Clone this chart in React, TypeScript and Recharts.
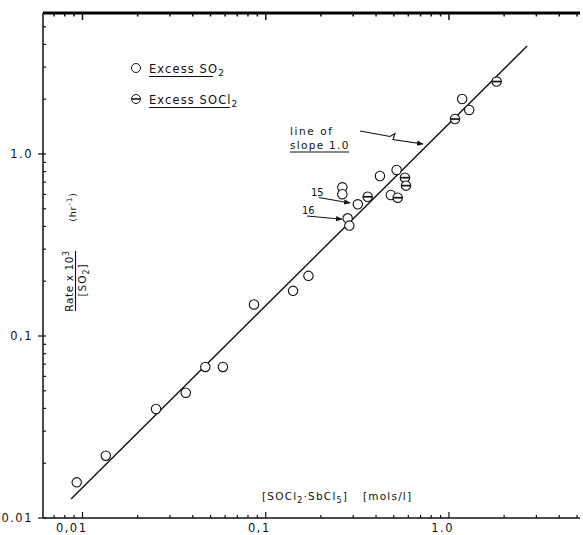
import React from 'react';
import { ScatterChart, Scatter, XAxis, YAxis, ReferenceLine } from 'recharts';

// Excess SO2 (open circles)
const so2X = [0.0093, 0.0134, 0.0252, 0.0366, 0.0468, 0.0584, 0.0863, 0.141, 0.171, 0.262, 0.262, 0.318, 0.280, 0.286, 0.420, 0.518, 0.482, 1.18, 1.29];
const so2Y = [0.0157, 0.0220, 0.0397, 0.0488, 0.0676, 0.0676, 0.149, 0.177, 0.214, 0.656, 0.601, 0.529, 0.443, 0.404, 0.757, 0.817, 0.595, 2.005, 1.745];
// Excess SOCl2 (circles with a bar)
const soclX = [0.360, 0.525, 0.575, 0.583, 1.079, 1.82];
const soclY = [0.582, 0.575, 0.741, 0.670, 1.556, 2.50];
// line of slope 1.0
const lineX = [0.00866, 2.67];
const lineY = [0.0127, 3.92];

const xMajorTicks = [0.01, 0.1, 1];
const xMajorLabels = ['0,01', '0,1', '1.0'];
const xMinorTicks = [0.007, 0.008, 0.009, 0.02, 0.03, 0.04, 0.05, 0.06, 0.07, 0.08, 0.09, 0.2, 0.3, 0.4, 0.5, 0.6, 0.7, 0.8, 0.9, 2, 3, 4, 5];
const yMajorTicks = [0.01, 0.1, 1];
const yMajorLabels = ['0.01', '0,1', '1.0'];
const yMinorTicks = [0.02, 0.03, 0.04, 0.05, 0.06, 0.07, 0.08, 0.09, 0.2, 0.3, 0.4, 0.5, 0.6, 0.7, 0.8, 0.9, 2, 3, 4, 5];

const xDomain = [0.006088, 5.19];
const yDomain = [0.01, 5.95];

const INK = '#111111';
const FONT = "'DejaVu Sans', sans-serif";

const so2Data = so2X.map((x, i) => ({ x, y: so2Y[i] }));
const soclData = soclX.map((x, i) => ({ x, y: soclY[i] }));
const lineData = lineX.map((x, i) => ({ x, y: lineY[i] }));
const xTicks = [...xMajorTicks, ...xMinorTicks].sort((a, b) => a - b);
const yTicks = [...yMajorTicks, ...yMinorTicks].sort((a, b) => a - b);

const BottomTick = (props: any) => {
  const { x, y, payload } = props;
  const idx = xMajorTicks.indexOf(payload.value);
  const major = idx >= 0;
  return (
    <g>
      <line x1={x} x2={x} y1={y} y2={y - (major ? 6 : 3)} stroke={INK} strokeWidth={1.2} />
      {major && (
        <text x={x + 5} y={y + 14} textAnchor="end" fontSize={11.5} fontFamily={FONT} letterSpacing={1.5} fill={INK}>
          {xMajorLabels[idx]}
        </text>
      )}
    </g>
  );
};

const LeftTick = (props: any) => {
  const { x, y, payload } = props;
  const idx = yMajorTicks.indexOf(payload.value);
  const major = idx >= 0;
  return (
    <g>
      <line x1={major ? x - 5 : x} x2={x + 3} y1={y} y2={y} stroke={INK} strokeWidth={1.2} />
      {major && (
        <text x={x - 10} y={y + 4} textAnchor="end" fontSize={11.5} fontFamily={FONT} letterSpacing={1.5} fill={INK}>
          {yMajorLabels[idx]}
        </text>
      )}
    </g>
  );
};

// short tick hanging down from the top frame line
const makeTopTick = (len: number) => (props: any) => {
  const top = Math.min(props.y1, props.y2);
  return <line x1={props.x1} x2={props.x1} y1={top} y2={top + len} stroke={INK} strokeWidth={1.5} />;
};
const TopMajor = makeTopTick(7);
const TopMinor = makeTopTick(3.5);

const OpenCircle = (props: any) => {
  const { cx, cy } = props;
  return <circle cx={cx} cy={cy} r={4.7} fill="#fff" stroke={INK} strokeWidth={1.1} />;
};

const BarCircle = (props: any) => {
  const { cx, cy } = props;
  return (
    <g>
      <circle cx={cx} cy={cy} r={4.7} fill="#fff" stroke={INK} strokeWidth={1.1} />
      <line x1={cx - 4.7} x2={cx + 4.7} y1={cy} y2={cy} stroke={INK} strokeWidth={1.7} />
    </g>
  );
};

const NoShape = () => <g />;

const txt = { fontFamily: FONT, fill: INK } as const;

export default function App() {
  return (
    <div style={{ position: 'absolute', left: 0, top: 0, width: 583, height: 535, background: '#fff' }}>
      <ScatterChart width={583} height={535} margin={{ top: 13, right: 3, bottom: 0, left: 0 }}>
        <XAxis
          dataKey="x"
          type="number"
          scale="log"
          domain={xDomain}
          allowDataOverflow
          ticks={xTicks}
          interval={0}
          height={17}
          tickSize={0}
          tickMargin={0}
          tickLine={false}
          tick={<BottomTick />}
          axisLine={{ stroke: INK, strokeWidth: 1.5 }}
        />
        <YAxis
          dataKey="y"
          type="number"
          scale="log"
          domain={yDomain}
          allowDataOverflow
          ticks={yTicks}
          interval={0}
          width={43}
          tickSize={0}
          tickMargin={0}
          tickLine={false}
          tick={<LeftTick />}
          axisLine={{ stroke: INK, strokeWidth: 1.5 }}
        />
        {/* top frame line with ticks */}
        <ReferenceLine y={yDomain[1]} stroke="#000000" strokeWidth={3} ifOverflow="visible" />
        {xMajorTicks.map((t) => (
          <ReferenceLine key={'tm' + t} x={t} stroke={INK} strokeWidth={1.5} ifOverflow="visible" shape={TopMajor} />
        ))}
        {xMinorTicks.map((t) => (
          <ReferenceLine key={'tn' + t} x={t} stroke={INK} strokeWidth={1.5} ifOverflow="visible" shape={TopMinor} />
        ))}
        <Scatter
          data={lineData}
          line={{ stroke: INK, strokeWidth: 1.4 }}
          shape={<NoShape />}
          isAnimationActive={false}
        />
        <Scatter data={so2Data} shape={<OpenCircle />} isAnimationActive={false} />
        <Scatter data={soclData} shape={<BarCircle />} isAnimationActive={false} />
      </ScatterChart>
      <svg
        width={583}
        height={535}
        style={{ position: 'absolute', left: 0, top: 0, pointerEvents: 'none' }}
      >
        <defs>
          <marker id="ah" viewBox="0 0 10 10" refX="9" refY="5" markerWidth="6" markerHeight="6" orient="auto">
            <path d="M0,1 L10,5 L0,9 z" fill={INK} />
          </marker>
        </defs>

        {/* legend */}
        <circle cx={136} cy={68} r={4.5} fill="#fff" stroke={INK} strokeWidth={1} />
        <text x={149} y={73} fontSize={11.5} letterSpacing={1.1} {...txt}>
          Excess SO<tspan dy={3} fontSize={9}>2</tspan>
        </text>
        <line x1={149} x2={213} y1={76.5} y2={76.5} stroke={INK} strokeWidth={1.1} />
        <circle cx={136} cy={99} r={4.5} fill="#fff" stroke={INK} strokeWidth={1} />
        <line x1={131.5} x2={140.5} y1={99} y2={99} stroke={INK} strokeWidth={1.5} />
        <text x={149} y={104} fontSize={11.5} letterSpacing={1.1} {...txt}>
          Excess SOCl<tspan dy={3} fontSize={9}>2</tspan>
        </text>
        <line x1={149} x2={230} y1={107.5} y2={107.5} stroke={INK} strokeWidth={1.1} />

        {/* line of slope annotation */}
        <text x={290} y={135} fontSize={10.5} letterSpacing={1.6} {...txt}>line of</text>
        <text x={290} y={149} fontSize={10.5} letterSpacing={1.3} {...txt}>slope 1.0</text>
        <line x1={290} x2={349} y1={152} y2={152} stroke={INK} strokeWidth={1.1} />
        <polyline
          points="360,131 390,136.5 395,133.5 393,139.5 423,144"
          fill="none"
          stroke={INK}
          strokeWidth={1.1}
          markerEnd="url(#ah)"
        />

        {/* 15 and 16 */}
        <text x={311} y={196} fontSize={10} {...txt}>15</text>
        <line x1={319} y1={197.5} x2={350} y2={203} stroke={INK} strokeWidth={1.1} markerEnd="url(#ah)" />
        <text x={302} y={214} fontSize={10} {...txt}>16</text>
        <line x1={307} y1={216} x2={342} y2={219.3} stroke={INK} strokeWidth={1.1} markerEnd="url(#ah)" />

        {/* y-axis label */}
        <text transform="translate(73,281) rotate(-90)" textAnchor="middle" fontSize={10.5} letterSpacing={0.6} {...txt}>
          Rate x 10<tspan dy={-4} fontSize={8}>3</tspan>
        </text>
        <line x1={75.5} x2={75.5} y1={251} y2={311} stroke={INK} strokeWidth={1.1} />
        <text transform="translate(86,280) rotate(-90)" textAnchor="middle" fontSize={10.5} letterSpacing={1} {...txt}>
          [SO<tspan dy={3} fontSize={8}>2</tspan><tspan dy={-3}>]</tspan>
        </text>
        <text transform="translate(76,207) rotate(-90)" textAnchor="middle" fontSize={9.5} letterSpacing={0.8} {...txt}>
          (hr<tspan dy={-4} fontSize={7.5}>-1</tspan><tspan dy={4}>)</tspan>
        </text>

        {/* x-axis label */}
        <text x={262} y={500} fontSize={10.5} letterSpacing={1.2} {...txt}>
          [SOCl<tspan dy={3} fontSize={8}>2</tspan><tspan dy={-3}>·SbCl</tspan><tspan dy={3} fontSize={8}>5</tspan><tspan dy={-3}>]</tspan>
        </text>
        <text x={363} y={500} fontSize={10.5} letterSpacing={1.2} {...txt}>[mols/l]</text>
      </svg>
    </div>
  );
}
